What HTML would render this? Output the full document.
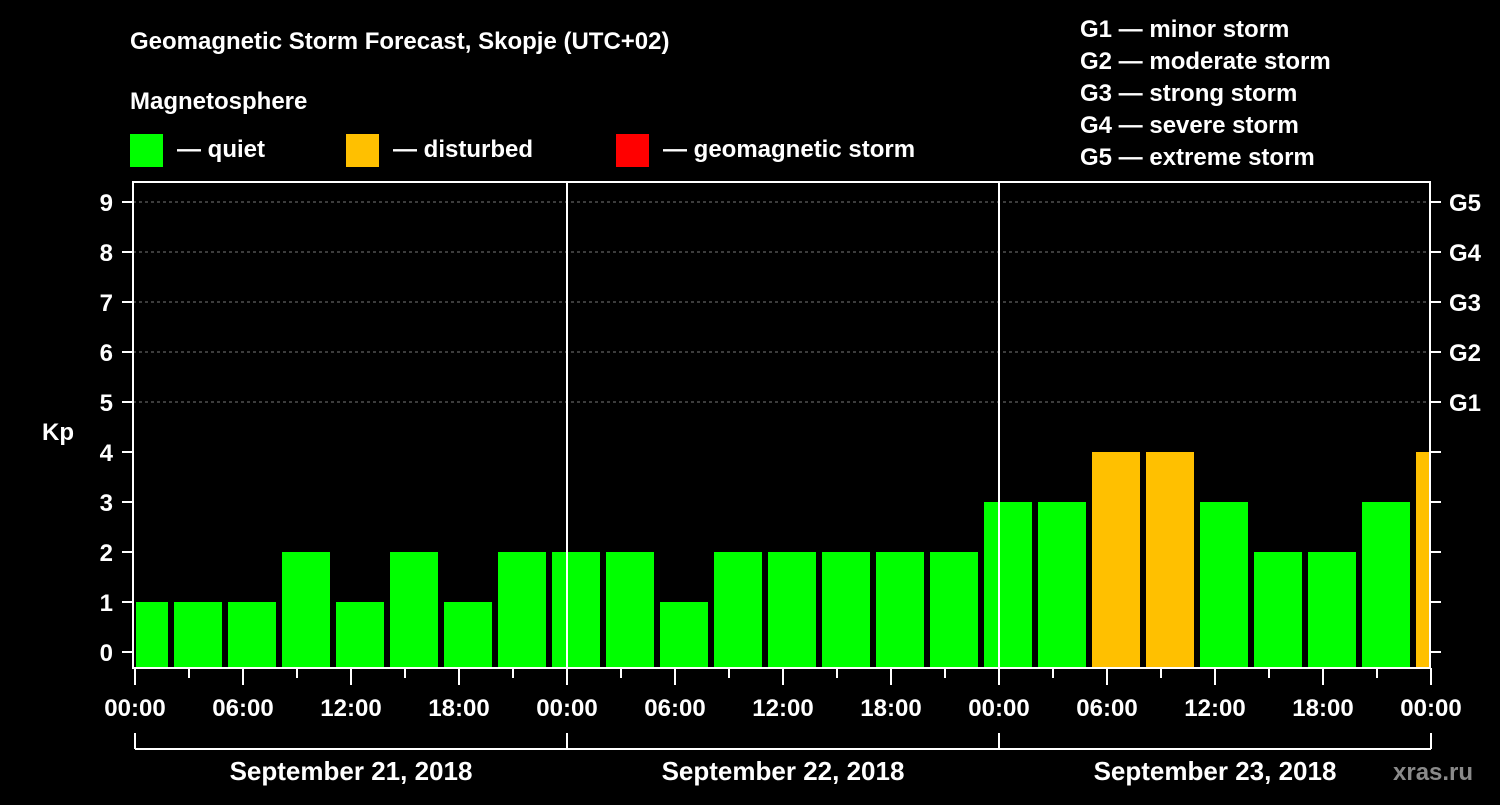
<!DOCTYPE html>
<html><head><meta charset="utf-8"><style>
body{margin:0;background:#000;width:1500px;height:800px;overflow:hidden}
svg text{font-family:"Liberation Sans",sans-serif;font-weight:bold;fill:#fff}
</style></head><body>
<svg id="c" width="1500" height="800">
<text x="130" y="49" font-size="24">Geomagnetic Storm Forecast, Skopje (UTC+02)</text>
<text x="130" y="109" font-size="24">Magnetosphere</text>
<rect x="130" y="134" width="33" height="33" fill="#00ff00"/>
<text x="177" y="157" font-size="24">— quiet</text>
<rect x="346" y="134" width="33" height="33" fill="#ffc000"/>
<text x="393" y="157" font-size="24">— disturbed</text>
<rect x="616" y="134" width="33" height="33" fill="#ff0000"/>
<text x="663" y="157" font-size="24">— geomagnetic storm</text>
<g font-size="24">
<text x="1080" y="37">G1 — minor storm</text>
<text x="1080" y="69">G2 — moderate storm</text>
<text x="1080" y="101">G3 — strong storm</text>
<text x="1080" y="133">G4 — severe storm</text>
<text x="1080" y="165">G5 — extreme storm</text>
</g>
<text x="42" y="440" font-size="24">Kp</text>
<text x="1393" y="780" font-size="24" fill="#888" style="fill:#8a8a8a">xras.ru</text>
<g id="plot"></g>
</svg>
<script>
const kpValues=[1,1,1,2,1,2,1,2,2,2,1,2,2,2,2,2,3,3,4,4,3,2,2,3,4];
const yTicks=[0,1,2,3,4,5,6,7,8,9];
const gLabels=["G1","G2","G3","G4","G5"];
const xTickLabels=["00:00","06:00","12:00","18:00","00:00","06:00","12:00","18:00","00:00","06:00","12:00","18:00","00:00"];
const dayLabels=["September 21, 2018","September 22, 2018","September 23, 2018"];
const NS="http://www.w3.org/2000/svg";
const L=133,R=1430,T=182,B=668,X0=135,HP=18;
const xs=h=>X0+h*HP, ys=v=>652-v*50;
const g=document.getElementById('plot');
function el(t,a,p){const e=document.createElementNS(NS,t);for(const k in a)e.setAttribute(k,a[k]);(p||g).appendChild(e);return e;}
// grid
yTicks.forEach(v=>{if(v>=5){const l=el('line',{x1:L,x2:R,y1:ys(v),y2:ys(v),stroke:'#777','stroke-dasharray':'3,3'});

}});
// bars
kpValues.forEach((v,i)=>{
 let s=3*i-1,e=3*i+2;s=Math.max(0,s);e=Math.min(72,e);
 const x1=xs(s)+(i==0?1:3),x2=xs(e)-(i==kpValues.length-1?2:3);
 const r=el('rect',{x:x1,y:ys(v),width:x2-x1,height:B-ys(v),fill:v>=5?'#ff0000':v>=4?'#ffc000':'#00ff00'});
 
 
});
// day separators
[1,2].forEach(d=>{const l=el('line',{x1:xs(24*d),x2:xs(24*d),y1:T,y2:B,stroke:'#fff','stroke-width':2});

});
// frame
const f=el('rect',{x:L,y:T,width:R-L,height:B-T,fill:'none',stroke:'#fff','stroke-width':2});


// y ticks
yTicks.forEach(v=>{
 el('line',{x1:L-11,x2:L,y1:ys(v),y2:ys(v),stroke:'#fff','stroke-width':2});
 el('line',{x1:R,x2:R+11,y1:ys(v),y2:ys(v),stroke:'#fff','stroke-width':2});
 const t=el('text',{x:L-20,y:ys(v)+9,'font-size':24,'text-anchor':'end'});t.textContent=v;
 
 
});
gLabels.forEach((s,i)=>{const t=el('text',{x:1449,y:ys(5+i)+9,'font-size':24});t.textContent=s;
 
 });
// x ticks
for(let h=0;h<=72;h+=3){el('line',{x1:xs(h),x2:xs(h),y1:B,y2:B+(h%6==0?17:10),stroke:'#fff','stroke-width':2});}
xTickLabels.forEach((s,i)=>{const t=el('text',{x:xs(6*i),y:716,'font-size':24,'text-anchor':'middle'});t.textContent=s;
 
 });
// day bracket
el('line',{x1:xs(0),x2:xs(72),y1:749,y2:749,stroke:'#fff','stroke-width':2});
[0,1,2,3].forEach(d=>el('line',{x1:xs(24*d),x2:xs(24*d),y1:733,y2:749,stroke:'#fff','stroke-width':2}));
dayLabels.forEach((s,i)=>{const t=el('text',{x:xs(24*i+12),y:780,'font-size':26,'text-anchor':'middle'});t.textContent=s;
 
 });
</script>
</body></html>
